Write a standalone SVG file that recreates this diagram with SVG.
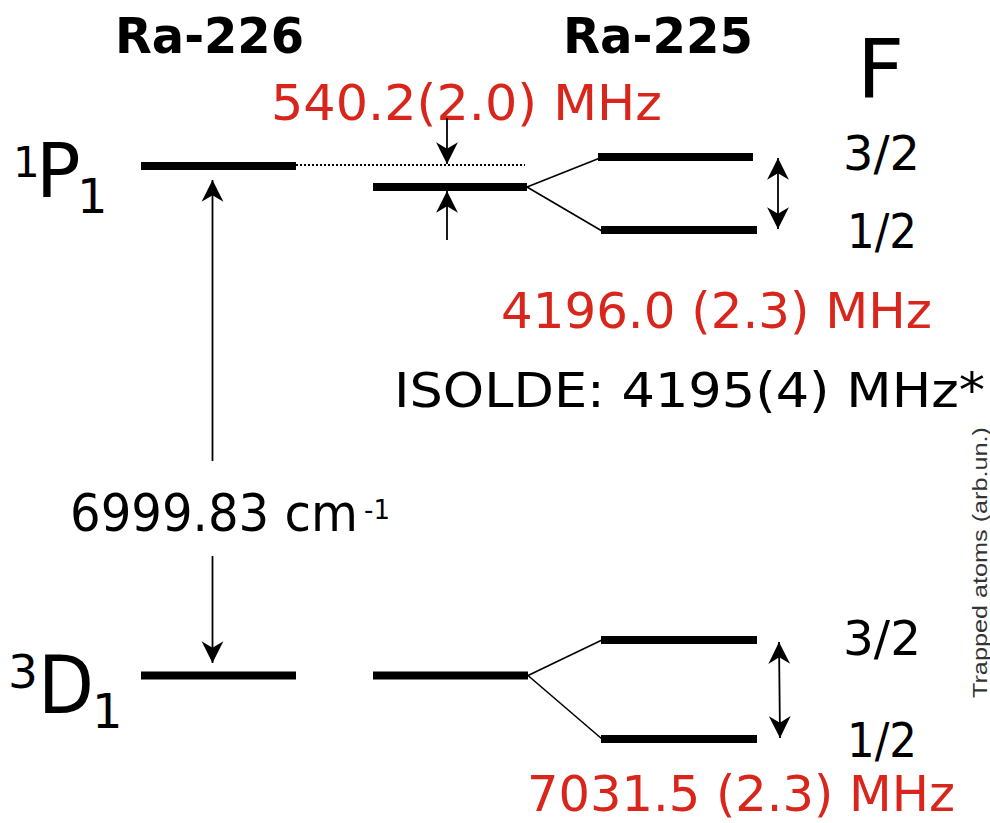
<svg xmlns="http://www.w3.org/2000/svg" width="990" height="823" viewBox="0 0 990 823">
<style>
  text { font-family: "DejaVu Sans", "Liberation Sans", sans-serif; fill: #000; }
  .red { fill: #d9261c; }
  .hdr { font-weight: bold; font-size: 50px; }
  .lbl { font-size: 48px; }
  .val { font-size: 50px; }
  .bar { stroke: #000; stroke-width: 8; fill: none; }
  .thin { stroke: #000; stroke-width: 1.6; fill: none; }
  .arr { stroke: #000; stroke-width: 1.8; fill: none; marker-end: url(#ah); }
  .darr { stroke: #000; stroke-width: 1.8; fill: none; marker-start: url(#ah); marker-end: url(#ah); }
  .dot { stroke: #000; stroke-width: 2; stroke-dasharray: 2 2; fill: none; }
  .axis { font-family: "Liberation Sans", Arial, sans-serif; font-size: 20px; fill: #333; }
</style>
<defs>
  <marker id="ah" markerUnits="userSpaceOnUse" markerWidth="24" markerHeight="24" refX="20" refY="10" orient="auto-start-reverse" viewBox="0 0 22 20">
    <path d="M20,10 L0,0 L6,10 L0,20 Z" fill="#000"/>
  </marker>
</defs>

<!-- headers -->
<g id="header-ra226"><text class="hdr" x="115" y="53" textLength="189" lengthAdjust="spacingAndGlyphs">Ra-226</text></g>
<g id="header-ra225"><text class="hdr" x="563" y="53" textLength="190" lengthAdjust="spacingAndGlyphs">Ra-225</text></g>
<g id="header-F"><text x="857" y="98" font-size="82">F</text></g>

<!-- state labels -->
<g id="label-1P1">
  <text><tspan x="13" y="177" font-size="42">1</tspan><tspan x="36" y="197" font-size="74">P</tspan><tspan x="77" y="213" font-size="48">1</tspan></text>
</g>
<g id="label-3D1">
  <text><tspan x="8" y="688" font-size="47">3</tspan><tspan x="38" y="713" font-size="80" textLength="56" lengthAdjust="spacingAndGlyphs">D</tspan><tspan x="92" y="728" font-size="48">1</tspan></text>
</g>

<!-- levels -->
<g id="level-226-1P1"><line class="bar" x1="141" y1="166" x2="296" y2="166"/></g>
<g id="level-225-1P1"><line class="bar" x1="373" y1="187" x2="527" y2="187"/></g>
<g id="level-225-1P1-F32"><line class="bar" x1="598" y1="157" x2="753" y2="157"/></g>
<g id="level-225-1P1-F12"><line class="bar" x1="601" y1="230" x2="757" y2="230"/></g>
<g id="level-226-3D1"><line class="bar" x1="141" y1="675.5" x2="296" y2="675.5"/></g>
<g id="level-225-3D1"><line class="bar" x1="373" y1="675.5" x2="528" y2="675.5"/></g>
<g id="level-225-3D1-F32"><line class="bar" x1="601" y1="640" x2="757" y2="640"/></g>
<g id="level-225-3D1-F12"><line class="bar" x1="601" y1="739" x2="757" y2="739"/></g>

<!-- F labels -->
<g id="F-1P1-32"><text class="lbl" x="843" y="170" textLength="77" lengthAdjust="spacingAndGlyphs">3/2</text></g>
<g id="F-1P1-12"><text class="lbl" x="847" y="248" textLength="70" lengthAdjust="spacingAndGlyphs">1/2</text></g>
<g id="F-3D1-32"><text class="lbl" x="843" y="655" textLength="78" lengthAdjust="spacingAndGlyphs">3/2</text></g>
<g id="F-3D1-12"><text class="lbl" x="847" y="757" textLength="70" lengthAdjust="spacingAndGlyphs">1/2</text></g>

<!-- value labels -->
<g id="val-isotope-shift"><text class="val red" x="271" y="120" textLength="391" lengthAdjust="spacingAndGlyphs">540.2(2.0) MHz</text></g>
<g id="val-1P1-hfs"><text class="val red" x="501" y="328" textLength="431" lengthAdjust="spacingAndGlyphs">4196.0 (2.3) MHz</text></g>
<g id="val-isolde"><text class="lbl" x="394" y="407" textLength="591" lengthAdjust="spacingAndGlyphs">ISOLDE: 4195(4) MHz*</text></g>
<g id="val-transition">
  <text><tspan x="70" y="531" font-size="52" textLength="288" lengthAdjust="spacingAndGlyphs">6999.83 cm</tspan><tspan x="364" y="519" font-size="26">-1</tspan></text>
</g>
<g id="val-3D1-hfs"><text class="val red" x="527" y="811" textLength="428" lengthAdjust="spacingAndGlyphs">7031.5 (2.3) MHz</text></g>

<g id="axis-label"><text class="axis" transform="translate(986.5,698) rotate(-90)" x="0" y="0" textLength="271" lengthAdjust="spacingAndGlyphs">Trapped atoms (arb.un.)</text></g>

<!-- connectors -->
<g id="connectors">
  <line class="dot" x1="296" y1="165" x2="525" y2="165"/>
  <line class="thin" x1="527" y1="187" x2="600" y2="158"/>
  <line class="thin" x1="527" y1="187" x2="602" y2="231"/>
  <line class="thin" x1="528" y1="675.5" x2="602" y2="640"/>
  <line class="thin" x1="528" y1="675.5" x2="602" y2="739"/>
  <line class="arr" x1="447" y1="118" x2="447" y2="164"/>
  <line class="arr" x1="447" y1="240" x2="447" y2="191"/>
  <line class="arr" x1="212.5" y1="461" x2="212.5" y2="180"/>
  <line class="arr" x1="212.5" y1="556" x2="212.5" y2="663"/>
  <line class="darr" x1="778" y1="158" x2="778" y2="229"/>
  <line class="darr" x1="779" y1="642" x2="780" y2="738"/>
</g>
</svg>
